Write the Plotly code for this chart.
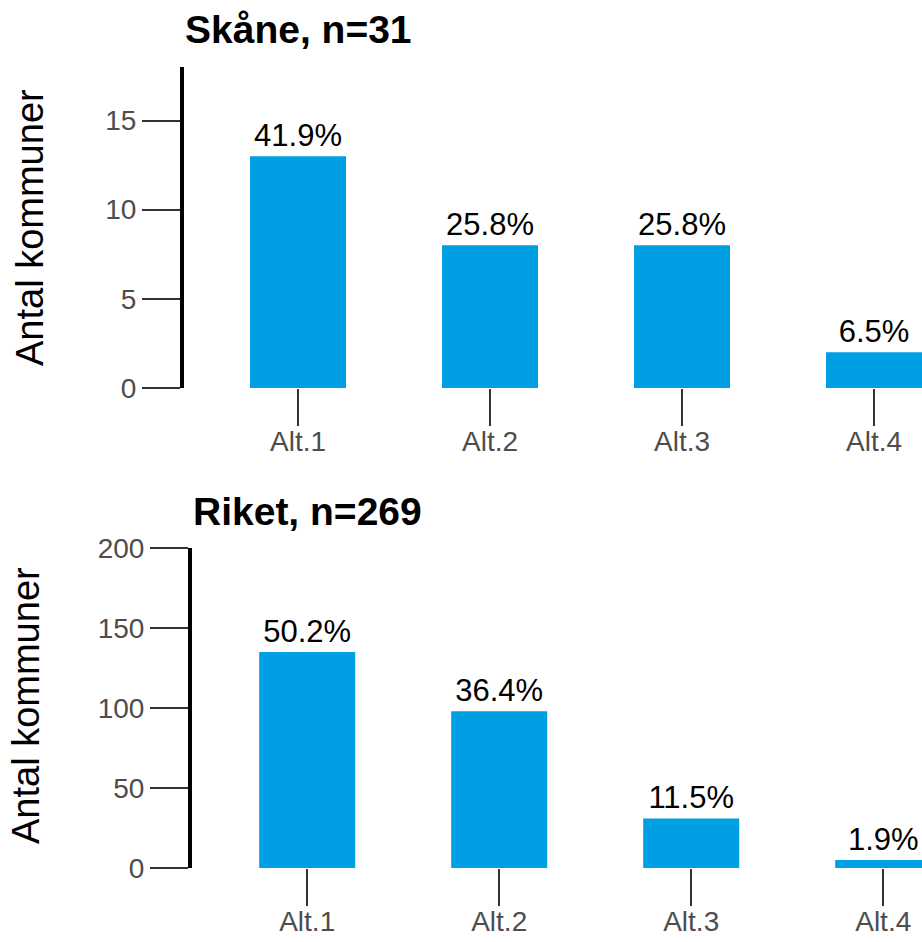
import plotly.graph_objects as go

W, H = 922, 942

categories = ["Alt.1", "Alt.2", "Alt.3", "Alt.4"]
skane_counts = [13, 8, 8, 2]
skane_labels = ["41.9%", "25.8%", "25.8%", "6.5%"]
riket_counts = [135, 98, 31, 5]
riket_labels = ["50.2%", "36.4%", "11.5%", "1.9%"]
skane_title = "Skåne, n=31"
riket_title = "Riket, n=269"
y_title = "Antal kommuner"
skane_yticks = [0, 5, 10, 15]
riket_yticks = [0, 50, 100, 150, 200]

BAR = "#009FE3"
FONT = "Liberation Sans, Arial, sans-serif"

def px_x(p):
    return p / W

def px_y(p):
    return 1 - p / H

fig = go.Figure()
fig.add_trace(go.Bar(x=categories, y=skane_counts, text=skane_labels,
                     textposition="outside", cliponaxis=False,
                     textfont=dict(size=31, color="black", family=FONT),
                     marker=dict(color=BAR, line=dict(width=0)), width=0.5,
                     xaxis="x", yaxis="y", hoverinfo="skip"))
fig.add_trace(go.Bar(x=categories, y=riket_counts, text=riket_labels,
                     textposition="outside", cliponaxis=False,
                     textfont=dict(size=31, color="black", family=FONT),
                     marker=dict(color=BAR, line=dict(width=0)), width=0.5,
                     xaxis="x2", yaxis="y2", hoverinfo="skip"))

xcommon = dict(type="category", showline=False, showgrid=False, zeroline=False,
               automargin=False, ticklabelstandoff=-9,
               ticks="outside", ticklen=37, tickwidth=1.5, tickcolor="#333333",
               tickfont=dict(size=28, color="#4d4d4d", family=FONT))
ycommon = dict(showline=True, linewidth=4, linecolor="black", showgrid=False,
               zeroline=False, automargin=False,
               ticks="outside", ticklen=38, tickwidth=1.5,
               tickcolor="#333333",
               tickfont=dict(size=28, color="#4d4d4d", family=FONT))

fig.update_layout(
    template="none",
    width=W, height=H,
    margin=dict(l=0, r=0, t=0, b=0, pad=0),
    paper_bgcolor="white", plot_bgcolor="white",
    showlegend=False,
    font=dict(family=FONT),
    xaxis=dict(**xcommon, domain=[px_x(184), 1], range=[-0.594, 3.25], anchor="y"),
    yaxis=dict(**ycommon, domain=[px_y(388), px_y(67)], range=[0, 18],
               tickvals=skane_yticks, anchor="x"),
    xaxis2=dict(**xcommon, domain=[px_x(192), 1], range=[-0.6, 3.202], anchor="y2"),
    yaxis2=dict(**ycommon, domain=[px_y(868), px_y(548)], range=[0, 200],
                tickvals=riket_yticks, anchor="x2"),
    annotations=[
        dict(text="<b>" + skane_title + "</b>", xref="paper", yref="paper",
             x=px_x(183), y=px_y(30), xanchor="left", yanchor="middle",
             showarrow=False, font=dict(size=39, color="black", family=FONT)),
        dict(text="<b>" + riket_title + "</b>", xref="paper", yref="paper",
             x=px_x(191), y=px_y(511), xanchor="left", yanchor="middle",
             showarrow=False, font=dict(size=39, color="black", family=FONT)),
        dict(text=y_title, xref="paper", yref="paper", textangle=-90,
             x=px_x(30), y=px_y(228), xanchor="center", yanchor="middle",
             showarrow=False, font=dict(size=38, color="black", family=FONT)),
        dict(text=y_title, xref="paper", yref="paper", textangle=-90,
             x=px_x(26), y=px_y(706), xanchor="center", yanchor="middle",
             showarrow=False, font=dict(size=38, color="black", family=FONT)),
    ],
)

fig.write_html(
    "out.html",
    config={"displayModeBar": False},
    post_script="document.body.style.margin='0';document.body.style.overflow='hidden';",
)
